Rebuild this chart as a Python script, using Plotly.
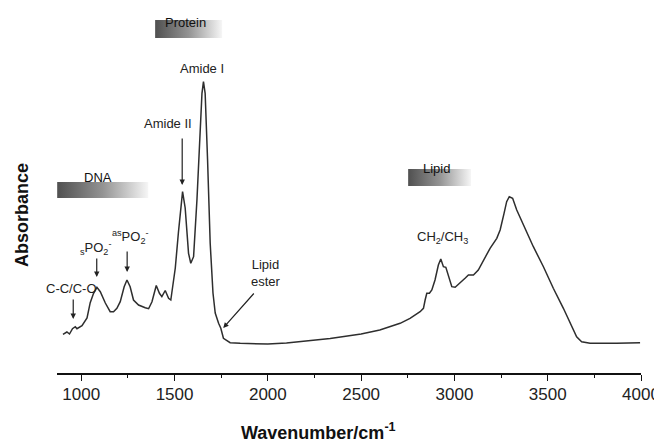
import plotly.graph_objects as go

# ---- data ----
wavenumber = [902, 923, 937, 953, 968, 977, 1004, 1031, 1048, 1066, 1084, 1102, 1129, 1155, 1173,
              1191, 1209, 1230, 1245, 1262, 1280, 1307, 1343, 1361, 1379, 1402, 1419, 1432, 1450,
              1468, 1480, 1504, 1521, 1543, 1557, 1575, 1587, 1602, 1620, 1634, 1647, 1655, 1664,
              1677, 1691, 1706, 1718, 1736, 1748, 1762, 1798, 1852, 2000, 2100, 2250, 2334, 2500,
              2600, 2709, 2762, 2816, 2834, 2843, 2852, 2866, 2879, 2896, 2914, 2927, 2941, 2954,
              2968, 2986, 3004, 3030, 3057, 3075, 3102, 3128, 3164, 3191, 3227, 3245, 3266, 3280,
              3294, 3312, 3334, 3370, 3423, 3477, 3530, 3584, 3629, 3655, 3682, 3727, 3870, 3995]
absorbance = [0.387, 0.41, 0.39, 0.443, 0.463, 0.443, 0.473, 0.55, 0.703, 0.797, 0.857, 0.813,
              0.70, 0.613, 0.613, 0.647, 0.713, 0.863, 0.93, 0.863, 0.73, 0.68, 0.653, 0.643,
              0.713, 0.875, 0.797, 0.763, 0.825, 0.747, 0.73, 1.05, 1.41, 1.813, 1.65, 1.197,
              1.097, 1.163, 1.73, 2.297, 2.797, 2.913, 2.797, 2.13, 1.30, 0.80, 0.60, 0.497,
              0.447, 0.347, 0.303, 0.297, 0.29, 0.30, 0.325, 0.345, 0.39, 0.43, 0.497, 0.547,
              0.613, 0.647, 0.73, 0.797, 0.797, 0.83, 0.93, 1.08, 1.14, 1.063, 1.057, 0.963,
              0.863, 0.857, 0.897, 0.947, 0.98, 0.98, 1.03, 1.147, 1.247, 1.347, 1.43, 1.597,
              1.713, 1.763, 1.747, 1.63, 1.48, 1.263, 1.063, 0.847, 0.647, 0.463, 0.363, 0.313,
              0.297, 0.297, 0.303]

# spectral region bars (wavenumber span)
region_names = ["DNA", "Protein", "Lipid"]
region_start = [871, 1396, 2752]
region_end = [1359, 1755, 3089]

# band labels: text, label position (wavenumber, absorbance)
band_labels = ["C-C/C-O", "<sub>s</sub>PO<sub>2</sub><sup>-</sup>",
               "<sup>as</sup>PO<sub>2</sub><sup>-</sup>", "Amide II", "Amide I",
               "Lipid<br>ester", "CH<sub>2</sub>/CH<sub>3</sub>"]
band_label_x = [946, 1078, 1262, 1466, 1645, 1991, 2937]
band_label_y = [0.85, 1.25, 1.36, 2.50, 3.05, 1.005, 1.36]

# arrows: tip (wavenumber, absorbance) and tail
arrow_tip_x = [957, 1083, 1246, 1541, 1761]
arrow_tip_y = [0.54, 0.96, 1.01, 1.88, 0.45]
arrow_tail_x = [957, 1083, 1246, 1541, 1932]
arrow_tail_y = [0.75, 1.16, 1.23, 2.36, 0.81]

x_ticks = [1000, 1500, 2000, 2500, 3000, 3500, 4000]
x_minor_ticks = [1250, 1750, 2250, 2750, 3250, 3750]

FONT = "Liberation Sans, Arial, Helvetica, sans-serif"

fig = go.Figure()

# region bars with a horizontal gradient
bar_y = {"DNA": (1.75, 1.91), "Protein": (3.35, 3.53), "Lipid": (1.87, 2.04)}
text_y = {"DNA": 1.96, "Protein": 3.51, "Lipid": 2.05}
for name, x0, x1 in zip(region_names, region_start, region_end):
    y0, y1 = bar_y[name]
    fig.add_trace(go.Scatter(
        x=[x0, x1, x1, x0, x0], y=[y0, y0, y1, y1, y0],
        mode="lines", line=dict(width=0), fill="toself",
        fillgradient=dict(type="horizontal",
                          colorscale=[[0, "#505050"], [0.5, "#939393"], [1, "#f6f6f6"]]),
        hoverinfo="skip", showlegend=False))
    fig.add_annotation(x=(x0 + x1) / 2 - (x1 - x0) * 0.05, y=text_y[name], text=name,
                       showarrow=False, font=dict(family=FONT, size=13, color="#111"),
                       xanchor="center", yanchor="middle")

# spectrum
fig.add_trace(go.Scatter(x=wavenumber, y=absorbance, mode="lines",
                         line=dict(color="#2e2e2e", width=1.5),
                         showlegend=False))

for t, x, y in zip(band_labels, band_label_x, band_label_y):
    fig.add_annotation(x=x, y=y, text=t, showarrow=False,
                       font=dict(family=FONT, size=13, color="#222"),
                       xanchor="center", yanchor="middle")

for tx, ty, ax, ay in zip(arrow_tip_x, arrow_tip_y, arrow_tail_x, arrow_tail_y):
    fig.add_annotation(x=tx, y=ty, ax=ax, ay=ay, axref="x", ayref="y", text="",
                       showarrow=True, arrowhead=2, arrowsize=0.9, arrowwidth=1.2,
                       arrowcolor="#222", standoff=0)

# axis titles as annotations
fig.add_annotation(xref="paper", yref="paper", x=0.447, y=-0.1625,
                   text="<b>Wavenumber/cm<sup>-1</sup></b>", showarrow=False,
                   font=dict(family=FONT, size=18, color="#111"),
                   xanchor="center", yanchor="middle")
fig.add_annotation(xref="paper", yref="paper", x=-0.06, y=0.435,
                   text="<b>Absorbance</b>", showarrow=False, textangle=-90,
                   font=dict(family=FONT, size=18, color="#111"),
                   xanchor="center", yanchor="middle")

fig.update_layout(
    width=654, height=443,
    margin=dict(l=57, r=13, t=10, b=70, autoexpand=False),
    paper_bgcolor="white", plot_bgcolor="white",
    xaxis=dict(range=[870, 4000], tickvals=x_ticks, automargin=False,
               showline=True, linecolor="#111", linewidth=1.6,
               ticks="outside", ticklen=6, tickwidth=1.4, tickcolor="#111",
               minor=dict(tickvals=x_minor_ticks,
                          ticks="outside", ticklen=3, tickwidth=1.2, tickcolor="#111"),
               showgrid=False, zeroline=False, ticklabelstandoff=-1,
               ticklabeloverflow="allow",
               tickfont=dict(family=FONT, size=17, color="#222")),
    yaxis=dict(range=[0, 3.63], showline=False, showticklabels=False, ticks="",
               showgrid=False, zeroline=False, automargin=False),
)

fig.write_html("out.html")
